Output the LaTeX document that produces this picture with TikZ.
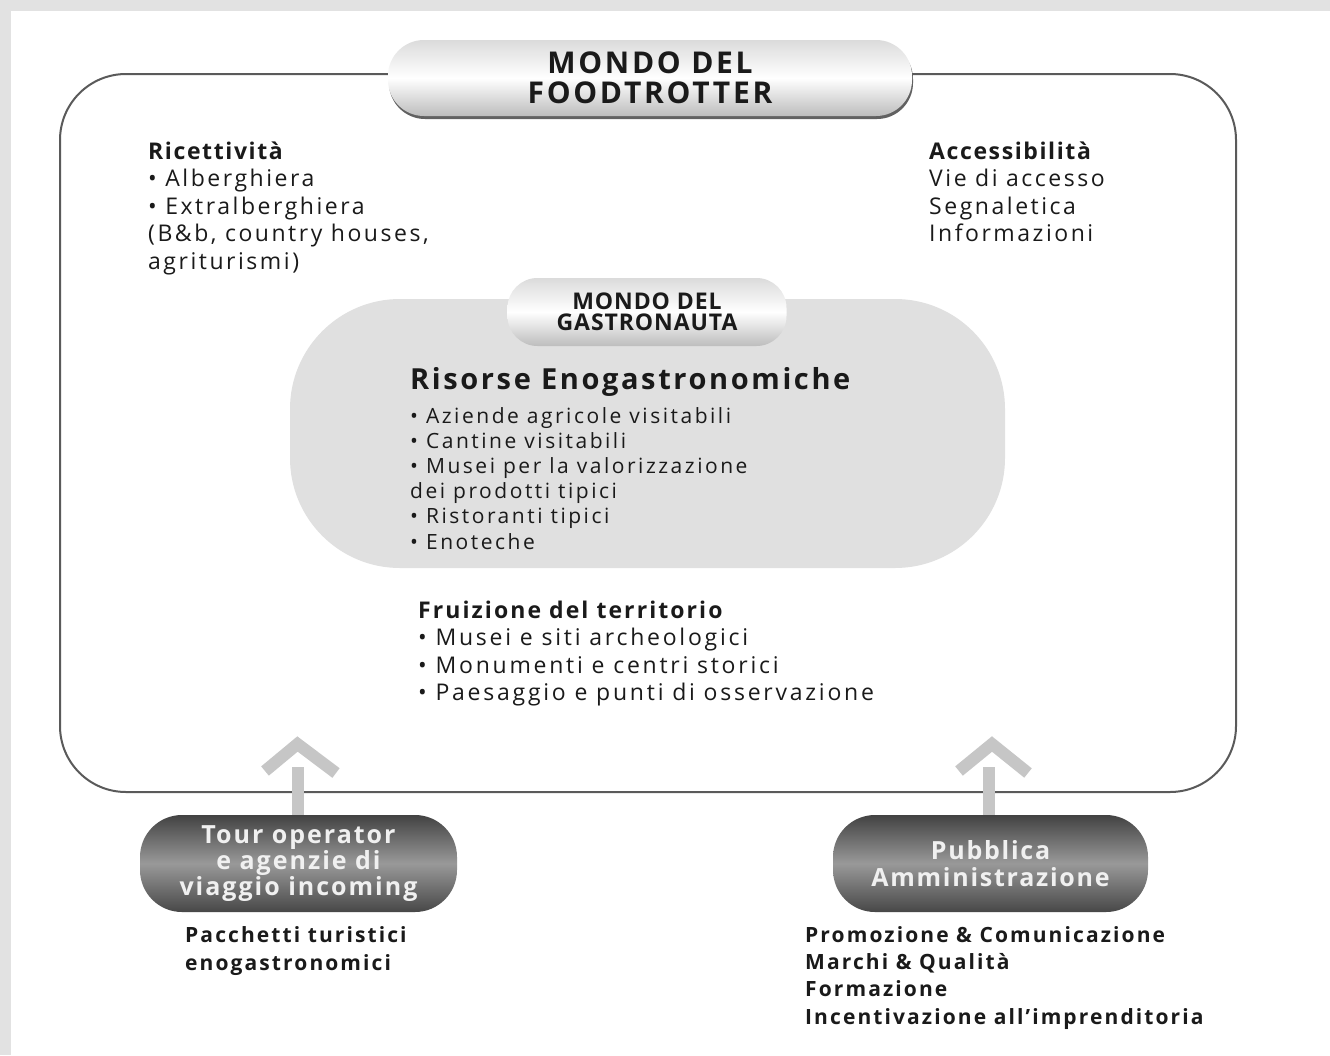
\documentclass[tikz,border=0pt]{standalone}
\usepackage{fontspec}
\setmainfont{Open Sans}
\usetikzlibrary{shapes.misc}
\definecolor{bggray}{HTML}{E2E2E2}
\definecolor{linegray}{HTML}{5A5A5A}
\definecolor{areagray}{HTML}{E0E0E0}
\definecolor{arrowgray}{HTML}{C6C6C6}
\definecolor{ink}{HTML}{1A1A1A}
\newcommand{\ls}[1]{\addfontfeature{LetterSpace=#1}}
\tikzset{
  txt/.style={anchor=base west, inner sep=0pt, text=ink, font=\fontsize{23}{27}\selectfont\ls{11}},
  hdr/.style={txt, font=\fontsize{23}{27}\selectfont\bfseries\ls{7}},
  lowtxt/.style={txt, font=\fontsize{21}{25}\selectfont\bfseries\ls{10}},
  lightpill/.style={rectangle, inner sep=0pt, align=center, text=ink,
     top color=white!86!black, bottom color=white!74!black, middle color=white},
  darkpill/.style={rectangle, inner sep=0pt, align=center, text=white!94!black,
     top color=black!74, bottom color=black!72, middle color=black!40},
  upstem/.style={draw=arrowgray, line width=12pt},
  chevron/.style={draw=arrowgray, line width=12pt, miter limit=10}
}
\begin{document}
\begin{tikzpicture}[x=1pt,y=-1pt]
\useasboundingbox (0,0) rectangle (1330,1055);
% background frame
\fill[bggray] (0,0) rectangle (1330,1055);
\fill[white] (11,11) rectangle (1330,1055);
% outer world
\draw[linegray, line width=2pt, rounded corners=66pt] (60,74) rectangle (1236,792);
% inner gray area
\fill[areagray, rounded corners=110pt] (290,299) rectangle (1005,568);
% gastronauta pill
\node[lightpill, rounded corners=30pt, minimum width=279pt, minimum height=68pt,
      font=\fontsize{23}{21}\selectfont\bfseries\ls{4}] (gastro) at (647,312) {MONDO DEL\\GASTRONAUTA};
% foodtrotter pill with shadow
\fill[black!62, rounded corners=36pt] (389,43) rectangle (913,119);
\node[lightpill, rounded corners=36pt, minimum width=524pt, minimum height=76pt,
      font=\fontsize{30}{30}\selectfont\bfseries\ls{9}] (food) at (650,78) {MONDO DEL\\FOODTROTTER};
% bottom pills
\node[darkpill, rounded corners=42pt, minimum width=317pt, minimum height=97pt,
      font=\fontsize{25}{24}\selectfont\bfseries\ls{8}] (tour) at (298.5,863.5) {Tour operator\\e agenzie di\\viaggio incoming};
\node[darkpill, rounded corners=42pt, minimum width=315pt, minimum height=97pt,
      font=\fontsize{25}{27}\selectfont\bfseries\ls{7}] (pa) at (990.5,863.5) {Pubblica\\Amministrazione};
% arrows
\coordinate (tourtop) at (297.5,767);
\coordinate (tourL) at (265,771);
\coordinate (tourA) at (297.5,744);
\coordinate (tourR) at (336,773);
\draw[upstem] (tour.north -| tourtop) -- (tourtop);
\draw[chevron] (tourL) -- (tourA) -- (tourR);
\coordinate (patop) at (989,767);
\coordinate (paL) at (959,771);
\coordinate (paA) at (992,744);
\coordinate (paR) at (1028,773);
\draw[upstem] (pa.north -| patop) -- (patop);
\draw[chevron] (paL) -- (paA) -- (paR);
% Ricettivita
\node[hdr] (ric) at (148,159) {Ricettività};
\foreach \t [count=\i] in {{• Alberghiera},{• Extralberghiera},{(B\&b, country houses,},{agriturismi)}}
  \node[txt] (ric\i) at (148,159+27.5*\i) {\t};
% Accessibilita
\node[hdr] (acc) at (929,159) {Accessibilità};
\foreach \t [count=\i] in {{Vie di accesso},{Segnaletica},{Informazioni}}
  \node[txt] (acc\i) at (929,159+27.5*\i) {\t};
% Risorse
\node[txt, font=\fontsize{29}{30}\selectfont\bfseries\ls{9}] (ris) at (410,389) {Risorse Enogastronomiche};
\foreach \t [count=\i from 0] in {{• Aziende agricole visitabili},{• Cantine visitabili},{• Musei per la valorizzazione},{dei prodotti tipici},{• Ristoranti tipici},{• Enoteche}}
  \node[txt, font=\fontsize{21}{25}\selectfont\ls{12}] (ris\i) at (410,423+25.2*\i) {\t};
% Fruizione
\node[hdr, font=\fontsize{23}{27}\selectfont\bfseries\ls{9}] (fru) at (418,618) {Fruizione del territorio};
\foreach \t [count=\i] in {{• Musei e siti archeologici},{• Monumenti e centri storici},{• Paesaggio e punti di osservazione}}
  \node[txt, font=\fontsize{23}{27}\selectfont\ls{12}] (fru\i) at (418,618+27.6*\i) {\t};
% below pills
\node[lowtxt] (pac1) at (185,942) {Pacchetti turistici};
\node[lowtxt] (pac2) at (185,970) {enogastronomici};
\foreach \t [count=\i from 0] in {{Promozione \& Comunicazione},{Marchi \& Qualità},{Formazione},{Incentivazione all’imprenditoria}}
  \node[lowtxt] (pro\i) at (805,942+27.4*\i) {\t};
\end{tikzpicture}
\end{document}
